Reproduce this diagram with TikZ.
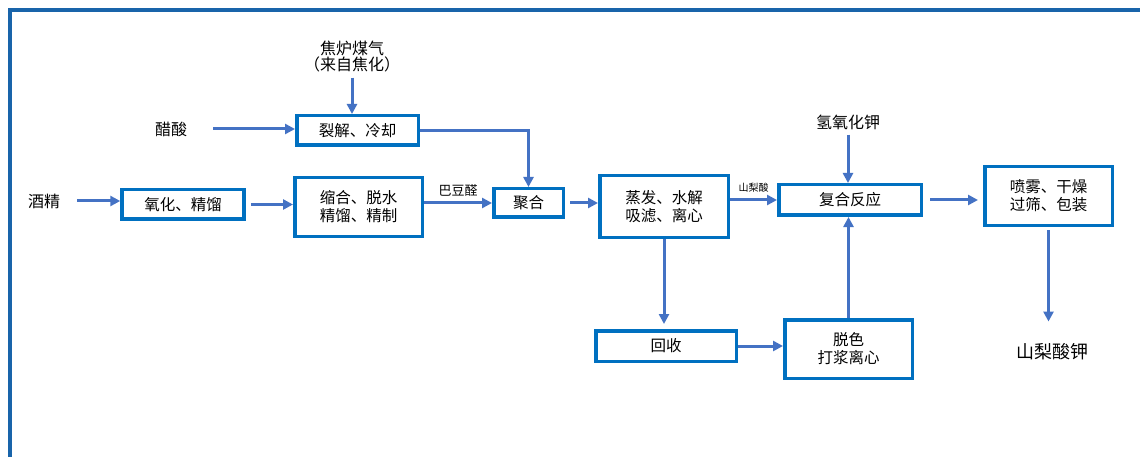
\documentclass[tikz,border=0pt]{standalone}
\usepackage{fontspec}
\setmainfont{Noto Sans CJK SC}
\usetikzlibrary{arrows.meta,calc}
\definecolor{boxblue}{RGB}{0,112,192}
\definecolor{arrblue}{RGB}{68,114,196}
\definecolor{frameblue}{RGB}{25,100,170}
\begin{document}
\begin{tikzpicture}[x=1pt,y=-1pt,
  box/.style={draw=boxblue,line width=3.5pt,fill=white,inner sep=0pt,align=center,font=\fontsize{15.5}{18}\selectfont},
  lbl/.style={inner sep=0pt,align=center,font=\fontsize{16}{16}\selectfont},
  small/.style={inner sep=0pt,font=\fontsize{13}{14}\selectfont},
  tiny/.style={inner sep=0pt,font=\fontsize{10}{11}\selectfont},
  arr/.style={draw=arrblue,line width=3pt,-{Triangle[length=10pt,width=10pt]}}]
\useasboundingbox (0,0) rectangle (1140,457);
\fill[white] (0,0) rectangle (1140,457);
% frame
\draw[frameblue,line width=4pt] (10,460) -- (10,10) -- (1142,10);
% boxes
\node[box,minimum width=122pt,minimum height=29.5pt] (ox) at (183,204.5) {氧化、精馏};
\node[box,minimum width=121.5pt,minimum height=29.5pt] (lj) at (357.5,130.5) {裂解、冷却};
\node[box,minimum width=127.5pt,minimum height=58.5pt] (sh) at (358.5,207) {缩合、脱水\\精馏、精制};
\node[box,minimum width=69.5pt,minimum height=28.5pt] (jh) at (528.5,203) {聚合};
\node[box,minimum width=128.5pt,minimum height=61.5pt] (zf) at (664,206.5) {蒸发、水解\\吸滤、离心};
\node[box,minimum width=142.5pt,minimum height=30.5pt] (fh) at (850,200) {复合反应};
\node[box,minimum width=127.5pt,minimum height=58.5pt] (pw) at (1048.5,196) {喷雾、干燥\\过筛、包装};
\node[box,minimum width=140.5pt,minimum height=30.5pt] (hs) at (666,346) {回收};
\node[box,minimum width=127.5pt,minimum height=58.5pt] (ts) at (848.5,349) {脱色\\打浆离心};
% free texts
\node[lbl] (cs) at (171,129) {醋酸};
\node[lbl] (jj) at (44,201) {酒精};
\node[lbl] (jl) at (352,57) {焦炉煤气\\（来自焦化）};
\node[lbl] (qy) at (848,122) {氢氧化钾};
\node[lbl,font=\fontsize{18}{20}\selectfont] (slj) at (1052,352) {山梨酸钾};
% connectors
\draw[arr,shorten <=17pt] (jj.east) -- (jj.east -| ox.west);
\draw[arr,shorten <=26pt] (cs.east) -- (cs.east -| lj.west);
\draw[arr,shorten <=5pt] (ox.east) -- (ox.east -| sh.west);
\draw[arr,shorten <=5pt] (jl.south) -- (jl.south |- lj.north);
\draw[arr] (lj.east) -| (jh.north);
\draw[arr] (sh.east |- jh.west) -- node[small,above=5pt] (bdq) {巴豆醛} (jh.west);
\draw[arr,shorten <=5pt] (jh.east) -- (jh.east -| zf.west);
\draw[arr] (zf.east |- fh.west) -- node[tiny,above=6pt] (slsl) {山梨酸} (fh.west);
\draw[arr,shorten <=5pt] (qy.south) -- (qy.south |- fh.north);
\draw[arr,shorten <=7pt,shorten >=5pt] (fh.east) -- (fh.east -| pw.west);
\draw[arr,shorten <=3pt,shorten >=22pt] (pw.south) -- (pw.south |- slj.north);
\draw[arr,shorten >=5pt] (zf.south) -- (zf.south |- hs.north);
\draw[arr] (hs.east) -- (hs.east -| ts.west);
\draw[arr] (ts.north) -- (ts.north |- fh.south);
\end{tikzpicture}
\end{document}
